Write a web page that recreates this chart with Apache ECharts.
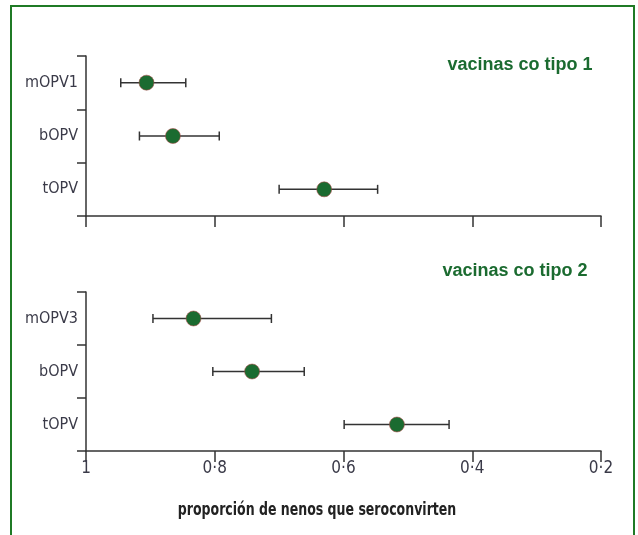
<!DOCTYPE html>
<html><head><meta charset="utf-8">
<script src="https://cdn.jsdelivr.net/npm/echarts@6/dist/echarts.min.js"></script>
<style>html,body{margin:0;padding:0;background:#fff}#c{width:638px;height:535px}</style>
</head><body><div id="c"></div>
<script>
const type1Categories = ['mOPV1', 'bOPV', 'tOPV'];
const type1Point = [0.906, 0.865, 0.630];
const type1Low = [0.946, 0.917, 0.700];
const type1High = [0.845, 0.793, 0.547];

const type2Categories = ['mOPV3', 'bOPV', 'tOPV'];
const type2Point = [0.833, 0.742, 0.517];
const type2Low = [0.896, 0.803, 0.599];
const type2High = [0.712, 0.661, 0.436];

const xTickValues = [1, 0.8, 0.6, 0.4, 0.2];
const xTickLabels = ['1', '0·8', '0·6', '0·4', '0·2'];
const panelTitles = ['vacinas co tipo 1', 'vacinas co tipo 2'];
const xAxisTitle = 'proporción de nenos que seroconvirten';

const narrow = "'DejaVu Sans Condensed', 'Liberation Sans', sans-serif";
const axisColor = '#333';
const green = '#1b6b30';

function tickLabel(v) {
  for (let i = 0; i < xTickValues.length; i++) {
    if (Math.abs(xTickValues[i] - v) < 1e-6) return xTickLabels[i];
  }
  return '';
}

function errRender(params, api) {
  const cat = api.value(0);
  const p1 = api.coord([api.value(1), cat]);
  const p2 = api.coord([api.value(2), cat]);
  const h = 4.5;
  const style = { stroke: axisColor, lineWidth: 1.5 };
  return { type: 'group', children: [
    { type: 'line', shape: { x1: p1[0], y1: p1[1], x2: p2[0], y2: p2[1] }, style: style },
    { type: 'line', shape: { x1: p1[0], y1: p1[1] - h, x2: p1[0], y2: p1[1] + h }, style: style },
    { type: 'line', shape: { x1: p2[0], y1: p2[1] - h, x2: p2[0], y2: p2[1] + h }, style: style }
  ]};
}

function xAxisCfg(idx, showLabels) {
  return {
    type: 'value', gridIndex: idx, inverse: true, min: 0.2, max: 1, interval: 0.2,
    splitLine: { show: false },
    axisLine: { show: true, lineStyle: { color: axisColor, width: 1.5 } },
    axisTick: { show: true, inside: false, length: 11, lineStyle: { color: axisColor, width: 1.5 } },
    axisLabel: { show: showLabels, formatter: tickLabel, fontFamily: narrow, fontSize: 17, color: '#3a3a48', margin: 9 }
  };
}
function yAxisCfg(idx, cats) {
  return {
    type: 'category', gridIndex: idx, data: cats, inverse: true, boundaryGap: true,
    axisLine: { show: true, lineStyle: { color: axisColor, width: 1.5 } },
    axisTick: { show: true, inside: false, length: 9, alignWithLabel: false, lineStyle: { color: axisColor, width: 1.5 } },
    axisLabel: { fontFamily: narrow, fontSize: 16, color: '#3a3a48', margin: 8 },
    splitLine: { show: false }
  };
}
function errData(low, high) { return low.map((l, i) => [i, l, high[i]]); }
function ptData(cats, pts) { return pts.map((v, i) => [v, cats[i]]); }

const markerStyle = { color: green, opacity: 1, borderColor: 'rgba(170,70,70,0.7)', borderWidth: 0.8 };

const chart = echarts.init(document.getElementById('c'));
chart.setOption({
  animation: false,
  backgroundColor: '#fff',
  grid: [
    { left: 86, right: 37, top: 56, height: 160 },
    { left: 86, right: 37, top: 292, height: 159 }
  ],
  xAxis: [xAxisCfg(0, false), xAxisCfg(1, true)],
  yAxis: [yAxisCfg(0, type1Categories), yAxisCfg(1, type2Categories)],
  series: [
    { type: 'custom', xAxisIndex: 0, yAxisIndex: 0, renderItem: errRender, encode: { y: 0, x: [1, 2] }, data: errData(type1Low, type1High), z: 2 },
    { type: 'scatter', xAxisIndex: 0, yAxisIndex: 0, symbolSize: 15, itemStyle: markerStyle, data: ptData(type1Categories, type1Point), z: 3 },
    { type: 'custom', xAxisIndex: 1, yAxisIndex: 1, renderItem: errRender, encode: { y: 0, x: [1, 2] }, data: errData(type2Low, type2High), z: 2 },
    { type: 'scatter', xAxisIndex: 1, yAxisIndex: 1, symbolSize: 15, itemStyle: markerStyle, data: ptData(type2Categories, type2Point), z: 3 }
  ],
  graphic: [
    { type: 'rect', shape: { x: 11, y: 6, width: 623, height: 560 }, style: { fill: 'none', stroke: '#1f7a25', lineWidth: 2 }, z: 10 },
    { type: 'text', x: 520, y: 65, style: { text: panelTitles[0], fill: green, font: "bold 18px 'Liberation Sans', Arial, sans-serif", textAlign: 'center', textVerticalAlign: 'middle' } },
    { type: 'text', x: 515, y: 271, style: { text: panelTitles[1], fill: green, font: "bold 18px 'Liberation Sans', Arial, sans-serif", textAlign: 'center', textVerticalAlign: 'middle' } },
    { type: 'text', x: 317, y: 511, scaleX: 0.82, style: { text: xAxisTitle, fill: '#222', font: "bold 17px " + narrow, textAlign: 'center', textVerticalAlign: 'middle' } }
  ]
});
</script>
</body></html>
